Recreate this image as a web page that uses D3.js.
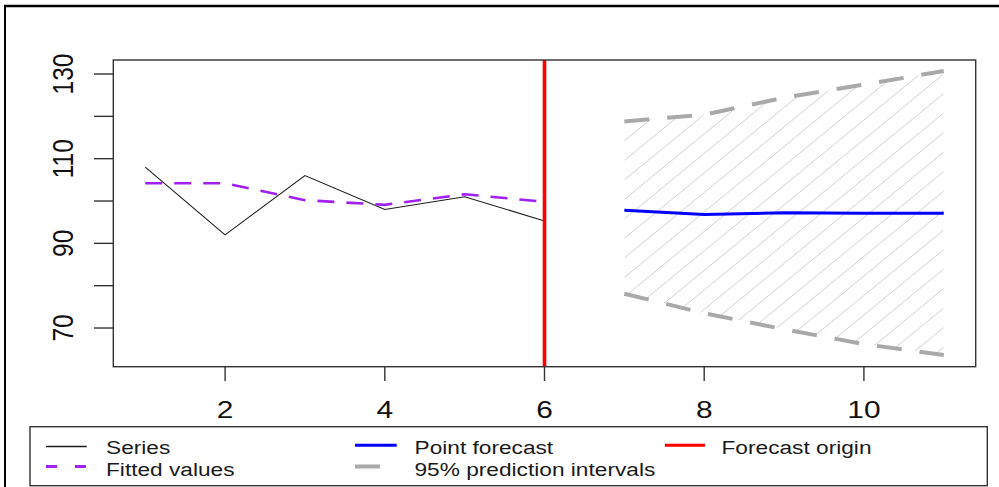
<!DOCTYPE html>
<html><head><meta charset="utf-8">
<script src="https://cdn.jsdelivr.net/npm/d3@7"></script>
<style>body{margin:0;background:#fff;overflow:hidden}svg{display:block}</style>
</head><body><svg id="c" width="999" height="487"></svg>
<script>
// ---- data ----
const seriesX = [1, 2, 3, 4, 5, 6];
const seriesValues = [108.0, 92.0, 106.0, 98.0, 101.0, 95.3];
const fittedValues = [104.2, 104.2, 100.2, 99.1, 101.6, 99.8];
const forecastX = [7, 8, 9, 10, 11];
const pointForecast = [97.8, 96.8, 97.2, 97.1, 97.1];
const upperPI = [118.8, 120.4, 124.4, 127.5, 130.7];
const lowerPI = [78.1, 73.5, 69.7, 66.2, 63.6];
const forecastOrigin = 6;
const xTicks = [2, 4, 6, 8, 10];
const yTicks = [70, 80, 90, 100, 110, 120, 130];
const yTickLabels = [70, 90, 110, 130];
const legendLabels = ["Series", "Fitted values", "Point forecast", "95% prediction intervals", "Forecast origin"];
const legendColors = ["#1a1a1a", "#a020f0", "#0000ff", "#a9a9a9", "#ff0000"];

// ---- layout ----
const svg = d3.select("#c");
const FONT = "'Liberation Sans', Arial, sans-serif";
const SX = 1.22; // horizontal stretch of the original picture
const L = 113.3, R = 975.7, T = 60, B = 366.7;
const x = d3.scaleLinear().domain([0.6, 11.4]).range([L, R]);
const y = d3.scaleLinear().domain([60.86, 133.31]).range([B, T]);

// outer frame (screenshot border)
svg.append("line").attr("x1", 4).attr("x2", 999).attr("y1", 6).attr("y2", 6)
  .attr("stroke", "#000").attr("stroke-width", 2.5);
svg.append("line").attr("x1", 5).attr("x2", 5).attr("y1", 5).attr("y2", 487)
  .attr("stroke", "#000").attr("stroke-width", 2);

// prediction interval polygon + hatching
const poly = forecastX.map((d, i) => [x(d), y(upperPI[i])])
  .concat(forecastX.map((d, i) => [x(d), y(lowerPI[i])]).reverse());
const defs = svg.append("defs");
defs.append("clipPath").attr("id", "pi").append("path")
  .attr("d", "M" + poly.map(p => p.join(",")).join("L") + "Z");
const hg = svg.append("g").attr("clip-path", "url(#pi)");
const slope = 0.82, spacing = 19.5;
const x0 = x(forecastX[0]), x1 = x(forecastX[forecastX.length - 1]);
const y0 = y(upperPI[0]);
for (let k = -5; k < 40; k++) {
  const yy = y0 + k * spacing;
  hg.append("line").attr("x1", x0).attr("y1", yy)
    .attr("x2", x1).attr("y2", yy - slope * (x1 - x0))
    .attr("stroke", "#d0d0d0").attr("stroke-width", 1);
}

const line = d3.line().x(d => x(d[0])).y(d => y(d[1]));

// interval bounds
[upperPI, lowerPI].forEach(arr => {
  svg.append("path").attr("d", line(forecastX.map((d, i) => [d, arr[i]])))
    .attr("fill", "none").attr("stroke", "#a9a9a9").attr("stroke-width", 4)
    .attr("stroke-dasharray", "25,18");
});

// series
svg.append("path").attr("d", line(seriesX.map((d, i) => [d, seriesValues[i]])))
  .attr("fill", "none").attr("stroke", "#1a1a1a").attr("stroke-width", 1.1);
// fitted
svg.append("path").attr("d", line(seriesX.map((d, i) => [d, fittedValues[i]])))
  .attr("fill", "none").attr("stroke", "#a020f0").attr("stroke-width", 2.6)
  .attr("stroke-dasharray", "17,12");
// point forecast
svg.append("path").attr("d", line(forecastX.map((d, i) => [d, pointForecast[i]])))
  .attr("fill", "none").attr("stroke", "#0000ff").attr("stroke-width", 3);
// forecast origin
svg.append("line").attr("x1", x(forecastOrigin)).attr("x2", x(forecastOrigin))
  .attr("y1", T).attr("y2", B).attr("stroke", "#ff0000").attr("stroke-width", 3.6);

// plot box
svg.append("rect").attr("x", L).attr("y", T).attr("width", R - L).attr("height", B - T)
  .attr("fill", "none").attr("stroke", "#333").attr("stroke-width", 1.4);

// x axis
xTicks.forEach(t => {
  svg.append("line").attr("x1", x(t)).attr("x2", x(t)).attr("y1", B).attr("y2", B + 14.3)
    .attr("stroke", "#333").attr("stroke-width", 1.4);
  svg.append("text").attr("transform", `translate(${x(t)},417.5) scale(${SX},1)`)
    .attr("text-anchor", "middle").attr("font-family", FONT).attr("font-size", 24.5)
    .attr("fill", "#111").text(t);
});
// y axis
yTicks.forEach(t => {
  svg.append("line").attr("x1", L - 19.3).attr("x2", L).attr("y1", y(t)).attr("y2", y(t))
    .attr("stroke", "#333").attr("stroke-width", 1.4);
});
yTickLabels.forEach(t => {
  svg.append("text").attr("transform", `translate(72.7,${y(t)}) scale(${SX},1) rotate(-90)`)
    .attr("text-anchor", "middle").attr("font-family", FONT).attr("font-size", 24.5)
    .attr("fill", "#111").text(t);
});

// legend
svg.append("rect").attr("x", 30).attr("y", 426.7).attr("width", 987.3 - 30).attr("height", 485.7 - 426.7)
  .attr("fill", "#fff").attr("stroke", "#333").attr("stroke-width", 1.4);
const items = [
  {i: 0, lx: 46, len: 40.7, ly: 446.5, tx: 106, ty: 454.3, w: 1.6, dash: null},
  {i: 1, lx: 46, len: 40.7, ly: 466.5, tx: 106, ty: 476, w: 2.8, dash: "11,18"},
  {i: 2, lx: 355, len: 41.7, ly: 445.3, tx: 414.5, ty: 454.3, w: 3, dash: null},
  {i: 3, lx: 355, len: 41.7, ly: 466.5, tx: 414.5, ty: 476, w: 4, dash: "25,18"},
  {i: 4, lx: 665, len: 40, ly: 445.3, tx: 721.5, ty: 454.3, w: 3, dash: null}
];
items.forEach(it => {
  const l = svg.append("line").attr("x1", it.lx).attr("x2", it.lx + it.len)
    .attr("y1", it.ly).attr("y2", it.ly)
    .attr("stroke", legendColors[it.i]).attr("stroke-width", it.w);
  if (it.dash) l.attr("stroke-dasharray", it.dash);
  svg.append("text").attr("transform", `translate(${it.tx},${it.ty}) scale(${SX},1)`)
    .attr("font-family", FONT).attr("font-size", 18.6).attr("fill", "#1a1a1a")
    .text(legendLabels[it.i]);
});
</script>
</body></html>
